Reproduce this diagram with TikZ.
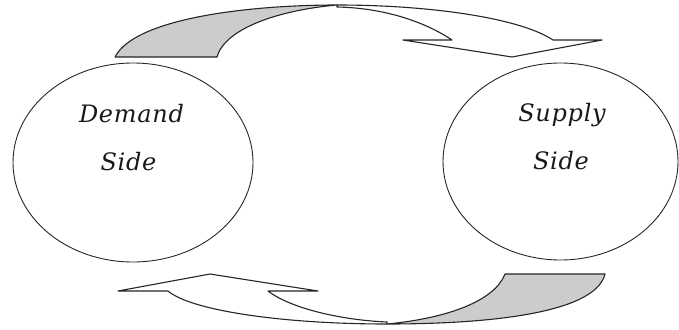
\documentclass[tikz,border=0pt]{standalone}
\usepackage{fontspec}
\newfontfamily\lblfont[LetterSpace=3]{DejaVu Serif}
\begin{document}
\begin{tikzpicture}[x=1pt,y=-1pt,
  side/.style={draw=black!85,line width=0.9pt},
  lbl/.style={font=\lblfont\itshape\fontsize{24}{28}\selectfont,text=black!90,anchor=base,inner sep=0pt},
  band/.style={draw=black!85,line width=1.1pt,line join=round},
  back/.style={band,fill=black!20},
  front/.style={band,fill=white}]
\useasboundingbox (0,0) rectangle (679,329);
% sides
\draw[side] (133,162.5) ellipse[x radius=120,y radius=99.5];
\draw[side] (560.5,161.5) ellipse[x radius=117.5,y radius=98.5];
\node[lbl] (d1) at (131.5,122) {Demand};
\node[lbl] (d2) at (128.5,170) {Side};
\node[lbl] (s1) at (562,121) {Supply};
\node[lbl] (s2) at (561,169) {Side};
% top arrow
\draw[back] (115,57) .. controls (135,18) and (250,5) .. (337,5)
  .. controls (280,10) and (225,28) .. (217,57) -- cycle;
\draw[front] (337,5) .. controls (430,5) and (520,18) .. (553,40)
  -- (602,40) -- (512,57) -- (403,40) -- (452,40)
  .. controls (425,22) and (385,8) .. (337,7) -- cycle;
% bottom arrow
\draw[back] (605,274) .. controls (595,315) and (480,324) .. (387,324)
  .. controls (450,318) and (495,300) .. (505,274) -- cycle;
\draw[front] (387,324) .. controls (280,324) and (190,310) .. (168,291)
  -- (118,291) -- (210,274) -- (318,291) -- (268,291)
  .. controls (290,308) and (340,320) .. (387,322) -- cycle;
\end{tikzpicture}
\end{document}
